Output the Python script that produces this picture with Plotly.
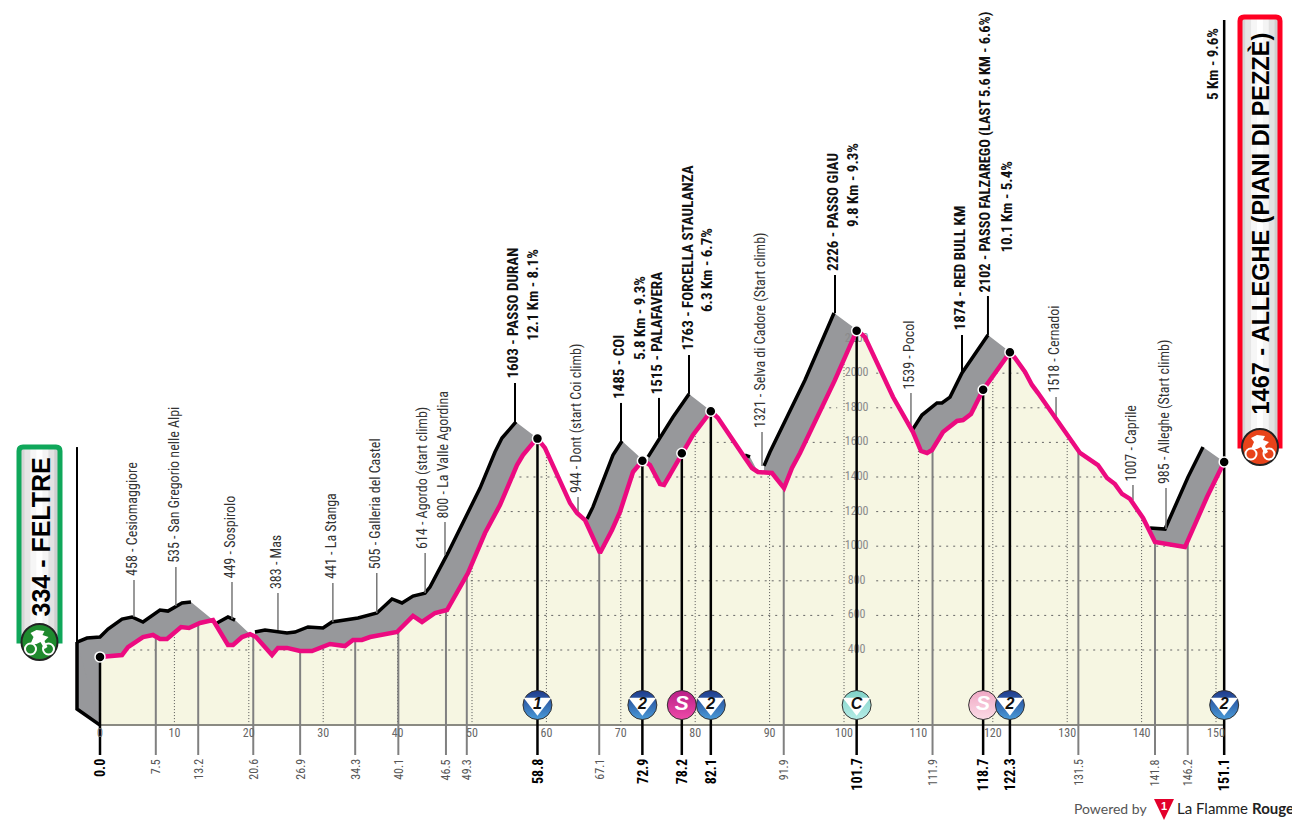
import numpy as np
import plotly.graph_objects as go

# stage profile, front edge (km, metres)
profile_km = [0, 2.96, 3.76, 5.78, 7.12, 8.06, 9.0, 10.89, 11.96, 13.44, 15.19, 17.2, 17.88, 19.09, 20.16, 20.97,
              23.12, 23.92, 25.13, 26.88, 28.49, 30.91, 32.93, 34.0, 35.2, 36.29, 39.92, 42.07, 43.28, 45.03, 46.64,
              49.46, 51.75, 53.76, 56.05, 56.85, 58.74, 59.8, 63.17, 64.11, 65.19, 67.2, 68.82, 69.89, 71.64, 72.98,
              73.92, 75.27, 75.81, 78.23, 79.7, 82.12, 83.06, 86.69, 87.63, 88.44, 90.32, 91.94, 93.01, 94.09, 98.79,
              101.75, 102.82, 106.59, 109.27, 110.35, 111.16, 111.83, 113.31, 115.19, 116.0, 117.07, 118.68, 122.31,
              122.98, 124.33, 125.27, 126.08, 131.72, 134.14, 135.35, 136.42, 137.37, 138.44, 140.19, 141.8, 145.83,
              148.79, 151.1]
profile_alt = [360, 371, 417, 475, 487, 464, 464, 533, 527, 556, 573, 429, 429, 475, 492, 475,
               371, 412, 412, 394, 394, 435, 423, 458, 458, 475, 504, 597, 562, 614, 631,
               845, 1076, 1238, 1469, 1527, 1625, 1568, 1250, 1192, 1151, 961, 1094, 1198, 1429, 1498,
               1469, 1359, 1354, 1539, 1643, 1781, 1741, 1510, 1452, 1429, 1423, 1336, 1452, 1539, 1961,
               2250, 2209, 1862, 1660, 1550, 1539, 1556, 1660, 1724, 1729, 1764, 1903, 2122,
               2088, 2007, 1932, 1885, 1539, 1469, 1394, 1359, 1302, 1273, 1163, 1024, 995,
               1284, 1487]

# back edge of the ribbon, only the stretches that can be seen
back_km = [[-3.09, -1.75, 0, 1.08, 2.96, 4.3, 5.78, 8.06, 9.14, 11.02, 12.23],
           [15.73, 17.2, 18.15],
           [20.83, 22.18, 25.13, 26.21, 27.96, 29.97, 31.18, 33.2, 34.68, 37.23, 39.25, 40.59, 42.07, 43.68, 44.35,
            46.77, 49.33, 51.08, 53.09, 54.03, 55.91],
           [65.46, 66.26, 68.95, 70.16],
           [73.66, 75.27, 77.02, 79.17],
           [86.69, 87.37],
           [89.25, 90.05, 94.76, 98.66],
           [109.27, 110.48, 112.5, 113.17, 114.25, 115.86, 119.35],
           [141.13, 143.15, 146.24, 148.25]]
back_alt = [[446, 469, 475, 521, 579, 591, 562, 631, 625, 672, 677],
            [556, 591, 573],
            [504, 516, 498, 504, 533, 527, 562, 573, 585, 614, 695, 672, 712, 729, 764,
             961, 1180, 1336, 1544, 1625, 1718],
            [1157, 1227, 1527, 1608],
            [1516, 1631, 1747, 1880],
            [1527, 1516],
            [1464, 1544, 1961, 2348],
            [1677, 1758, 1828, 1828, 1862, 2001, 2221],
            [1105, 1099, 1400, 1573]]
# where each stretch comes back down to the front edge
link_km = [15.19, 20.16, 58.74, 72.98, 82.12, 88.44, 101.75, 122.31, 151.1]
link_alt = [573, 492, 1625, 1498, 1781, 1429, 2250, 2122, 1487]
side_km = [-3.09, -3.09, 0, 0]
side_alt = [446, 59, -34, 475]

# waypoints
minor_text = ["458 - Cesiomaggiore", "535 - San Gregorio nelle Alpi", "449 - Sospirolo", "383 - Mas", "441 - La Stanga",
              "505 - Galleria del Castel", "614 - Agordo (start climb)", "800 - La Valle Agordina",
              "944 - Dont (start Coi climb)", "1321 - Selva di Cadore (Start climb)", "1539 - Pocol", "1518 - Cernadoi",
              "1007 - Caprile", "985 - Alleghe (Start climb)"]
minor_km = [4.57, 10.2, 17.74, 23.92, 31.3, 37.2, 43.7, 46.37, 64.25, 88.98, 109.0, 128.5, 138.84, 143.28]
minor_low = [591, 654, 579, 516, 562, 614, 729, 949, 1180, 1464, 1677, 1585, 1267, 1099]
minor_high = [805, 880, 793, 729, 787, 845, 961, 1140, 1284, 1660, 1885, 1862, 1354, 1336]

major_text = ["1603 - PASSO DURAN", "1485 - COI", "1515 - PALAFAVERA", "1763 - FORCELLA STAULANZA", "2226 - PASSO GIAU",
              "1874 - RED BULL KM", "2102 - PASSO FALZAREGO (LAST 5.6 KM - 6.6%)"]
major_km = [55.78, 70.03, 75.13, 79.17, 98.79, 115.86, 119.35]
major_low = [1718, 1608, 1631, 1880, 2348, 2001, 2221]
major_high = [1943, 1828, 1857, 2105, 2568, 2221, 2446]

climb_text = ["12.1 Km - 8.1%", "5.8 Km - 9.3%", "6.3 Km - 6.7%", "9.8 Km - 9.3%", "10.1 Km - 5.4%", "5 Km - 9.6%"]
climb_km = [58.2, 72.58, 81.59, 101.2, 121.9, 149.6]
climb_alt = [2185, 2076, 2354, 2845, 2700, 3579]

# distance ticks under the profile
bold_km = [0.0, 58.8, 72.9, 78.2, 82.1, 101.7, 118.7, 122.3, 151.1]
thin_km = [7.5, 13.2, 20.6, 26.9, 34.3, 40.1, 46.5, 49.3, 67.1, 91.9, 111.9, 131.5, 141.8, 146.2]
axis_km = list(range(0, 151, 10))
alt_ticks = [400, 600, 800, 1000, 1200, 1400, 1600, 1800, 2000, 2200]
ALT_LABEL_KM = 101.7
badge_km = [58.8, 72.9, 78.2, 82.1, 101.7, 118.7, 122.3, 151.1]
badge_text = ["1", "2", "S", "2", "C", "S", "2", "2"]

start_text = "334 - FELTRE"
finish_text = "1467 - ALLEGHE (PIANI DI PEZZÈ)"

NARROW = "Roboto Condensed, Roboto, sans-serif"
PINK = "#ec0a80"
GREY = "#97989b"
CREAM = "#f6f6e2"
BASE = -34
TICK_END = -207
# the page body keeps its 8px margin, so the figure starts at 8,8
W, H, PAGE = 1292, 817, 8


def alt_at(km):
    return np.interp(km, profile_km, profile_alt)


def segs(xs, lows, highs):
    x, y = [], []
    for a, lo, hi in zip(xs, lows, highs):
        x += [a, a, None]
        y += [lo, hi, None]
    return x, y


def line(x, y, color, width, dash="solid"):
    return go.Scatter(x=x, y=y, mode="lines", hoverinfo="skip", line=dict(color=color, width=width, dash=dash))


fig = go.Figure()

# grey ribbon, the start wall is its own trace so the fills don't cancel
fig.add_trace(go.Scatter(x=side_km, y=side_alt, mode="lines", fill="toself", fillcolor=GREY, line=dict(width=0), hoverinfo="skip"))
gx, gy = [], []
for kms, alts, lk, la in zip(back_km, back_alt, link_km, link_alt):
    left = max(kms[0], 0)
    gx += kms + [lk, lk, left, None]
    gy += alts + [la, BASE, BASE, None]
fig.add_trace(go.Scatter(x=gx, y=gy, mode="lines", fill="toself", fillcolor=GREY, line=dict(width=0), hoverinfo="skip"))

bx, by = [], []
for kms, alts in zip(back_km, back_alt):
    bx += kms + [None]
    by += alts + [None]
fig.add_trace(line(bx, by, "#000000", 3.5))
fig.add_trace(line([-3.09, -3.09], [446, 1573], "#000000", 2))
fig.add_trace(line(side_km[:3], side_alt[:3], "#000000", 3.5))

# leader lines up from the ribbon
x, y = segs(minor_km, minor_low, minor_high)
fig.add_trace(line(x, y, "#777777", 1.5))
x, y = segs(major_km, major_low, major_high)
fig.add_trace(line(x, y, "#000000", 2))

# front face
fig.add_trace(go.Scatter(x=[0] + profile_km + [151.1], y=[BASE] + profile_alt + [BASE], mode="lines", fill="toself",
                         fillcolor=CREAM, line=dict(width=0), hoverinfo="skip"))

# dotted grid, kept inside the front face
dense = np.linspace(0, 151.1, 1500)
for lev in alt_ticks:
    yy = np.where((alt_at(dense) > lev) & (np.abs(dense - ALT_LABEL_KM) > 2.6), float(lev), np.nan)
    fig.add_trace(line(dense, yy, "#666666", 1, "2px,5px"))
x, y = segs(axis_km[1:], [BASE] * 15, [alt_at(k) for k in axis_km[1:]])
fig.add_trace(line(x, y, "#555555", 1, "1px,2px"))

fig.add_trace(go.Scatter(x=[ALT_LABEL_KM] * len(alt_ticks), y=alt_ticks, mode="text", text=[str(a) for a in alt_ticks],
                         textfont=dict(family=NARROW, size=12, color="#8a8a8a"), hoverinfo="skip"))

# axis line and distance ticks
fig.add_trace(line([0, 151.1], [BASE, BASE], "#8a8a82", 2))
x, y = segs(thin_km, [TICK_END] * len(thin_km), [alt_at(k) for k in thin_km])
fig.add_trace(line(x, y, "#808080", 2))
x, y = segs(bold_km, [TICK_END] * len(bold_km), [alt_at(k) for k in bold_km])
fig.add_trace(line(x, y, "#000000", 2.5))
fig.add_trace(line([151.1, 151.1], [1487, 4041], "#000000", 2.5))

fig.add_trace(line(profile_km, profile_alt, PINK, 4.5))

fig.add_trace(go.Scatter(x=bold_km, y=[alt_at(k) for k in bold_km], mode="markers", hoverinfo="skip",
                         marker=dict(size=10, color="#000000", line=dict(color="#ffffff", width=1.5))))

# km numbers
fig.add_trace(go.Scatter(x=axis_km, y=[-86] * len(axis_km), mode="text", text=[str(k) for k in axis_km],
                         textfont=dict(family=NARROW, size=12, color="#666666"), hoverinfo="skip"))

# climb / sprint badges
BADGE_ALT = 82
badge_style = {"1": ("#1e3a8c", "#4a9bd8"), "2": ("#1e3a8c", "#4a9bd8"), "C": ("#7fd2c8", "#b5ece6")}
for km, t in zip(badge_km, badge_text):
    if t == "S":
        low, high = ("#b81f86", "#ee4aa8") if km < 100 else ("#f0a8c4", "#fbdbe6")
    else:
        low, high = badge_style[t]
    fig.add_trace(go.Scatter(x=[km], y=[BADGE_ALT], mode="markers", hoverinfo="skip",
                             marker=dict(size=29, color=low, gradient=dict(type="vertical", color=high),
                                         line=dict(color="#333333", width=1))))
    if t != "S":
        fig.add_trace(go.Scatter(x=[km], y=[BADGE_ALT + 8], mode="markers", hoverinfo="skip",
                                 marker=dict(size=24, symbol="triangle-down", color="#ffffff")))
    fig.add_trace(go.Scatter(x=[km], y=[BADGE_ALT], mode="text", text=[f"<b><i>{t}</i></b>"],
                             textfont=dict(family="Liberation Sans", size=16 if t != "S" else 21,
                                           color="#111111" if t != "S" else "#ffffff"), hoverinfo="skip"))

annos = []


def vtext(text, x, y, size, color, xshift=0, yshift=0, anchor="bottom", bold=False):
    annos.append(dict(x=x, y=y, text=f"<b>{text}</b>" if bold else text, textangle=-90, showarrow=False,
                      xanchor="center", yanchor=anchor, xshift=xshift, yshift=yshift, borderpad=0, borderwidth=0,
                      font=dict(family=NARROW, size=size, color=color)))


for t, k, h in zip(minor_text, minor_km, minor_high):
    vtext(t, k, h, 14, "#333333", xshift=-2, yshift=4)
for t, k, h in zip(major_text, major_km, major_high):
    # the longest label has to fit under the top of the page
    vtext(t, k, h, 14.4 if len(t) > 30 else 15, "#111111", xshift=-2, yshift=4, bold=True)
for t, k, a in zip(climb_text, climb_km, climb_alt):
    vtext(t, k, a, 15, "#111111", bold=True)
for k in thin_km:
    vtext(f"{k:.1f}", k, -230, 12, "#555555", anchor="top")
for k in bold_km:
    vtext(f"{k:.1f}", k, -230, 14, "#000000", anchor="top", bold=True)


# page furniture in pixels of the 1300x825 picture
def px(v):
    return (v - PAGE) / W


def py(v):
    return 1 - (v - PAGE) / H


def pill_path(x0, x1, top, cy, r_top=4):
    r = (x1 - x0) / 2
    return (f"M {px(x0)} {py(cy)} L {px(x0)} {py(top + r_top)} Q {px(x0)} {py(top)} {px(x0 + r_top)} {py(top)} "
            f"L {px(x1 - r_top)} {py(top)} Q {px(x1)} {py(top)} {px(x1)} {py(top + r_top)} L {px(x1)} {py(cy)} "
            f"A {r} {r} 0 0 1 {px(x0)} {py(cy)} Z")


def box(x0, y0, x1, y1, color):
    return dict(type="rect", xref="paper", yref="paper", x0=px(x0), x1=px(x1), y0=py(y1), y1=py(y0),
                fillcolor=color, line=dict(width=0), layer="above")


def disc(cx, cy, r, fill, edge=None, w=0):
    return dict(type="circle", xref="paper", yref="paper", x0=px(cx - r), x1=px(cx + r), y0=py(cy + r), y1=py(cy - r),
                fillcolor=fill, line=dict(color=edge or fill, width=w), layer="above")


def rider(cx, cy, fill):
    body = [(-9, 2), (-6, -5), (-9, -9), (-3, -12), (5, -11), (3, -7), (9, -5), (5, -1), (8, 5), (5, 7), (1, 0), (-3, 2)]
    d = "M " + " L ".join(f"{px(cx + a)} {py(cy + b)}" for a, b in body) + " Z"
    return [disc(cx - 9, cy + 7, 5.5, fill, "#ffffff", 2), disc(cx + 9, cy + 7, 5.5, fill, "#ffffff", 2),
            dict(type="path", xref="paper", yref="paper", path=d, fillcolor="#ffffff", line=dict(width=0), layer="above")]


shapes = []
strip_cols = ["#d6d6d6", "#e6e6e6", "#f6f6f6", "#ffffff", "#f4f4f4", "#e2e2e2", "#cfcfcf"]
for left, right, top, cy, col, icon in [(19, 60, 447, 641, "#0fa75a", "#1f8a2e"), (1240, 1280, 17, 446, "#ff0022", "#e8431a")]:
    shapes.append(dict(type="path", xref="paper", yref="paper", path=pill_path(left, right, top, cy),
                       fillcolor="#ffffff", line=dict(width=0), layer="above"))
    w = (right - left) / len(strip_cols)
    for i, c in enumerate(strip_cols):
        shapes.append(box(left + i * w, top, left + (i + 1) * w, cy, c))
    shapes.append(dict(type="path", xref="paper", yref="paper", path=pill_path(left, right, top, cy),
                       fillcolor="rgba(0,0,0,0)", line=dict(color=col, width=5), layer="above"))
    mid = (left + right) / 2
    shapes.append(disc(mid, cy + 1, 18, icon, "#222222", 2))
    shapes += rider(mid, cy + 1, icon)

# powered-by triangle
tri = [(1154, 799), (1174, 799), (1164, 820)]
shapes.append(dict(type="path", xref="paper", yref="paper", fillcolor="#e3002b", line=dict(width=0), layer="above",
                   path="M " + " L ".join(f"{px(a)} {py(b)}" for a, b in tri) + " Z"))
fig.update_layout(shapes=shapes)


def page_text(text, x, y, family, size, color, angle=0, xanchor="center"):
    annos.append(dict(xref="paper", yref="paper", x=px(x), y=py(y), text=text, textangle=angle, showarrow=False,
                      xanchor=xanchor, yanchor="middle", font=dict(family=family, size=size, color=color)))


page_text(f"<b>{start_text}</b>", 40, 537.5, "Liberation Sans", 25, "#000000", -90)
page_text(f"<b>{finish_text}</b>", 1260, 223.5, "Liberation Sans", 23.5, "#000000", -90)
page_text("Powered by", 1072, 808, "Lato", 14, "#555555", xanchor="left")
page_text("<b>1</b>", 1164, 806, "Liberation Sans", 11, "#ffffff")
page_text("La Flamme", 1175, 808, "Lato", 15, "#222222", xanchor="left")
page_text("<b>Rouge</b>", 1296, 808, "Lato", 15, "#222222", xanchor="right")

fig.update_layout(
    width=W, height=H, margin=dict(l=0, r=0, t=0, b=0), showlegend=False,
    paper_bgcolor="#ffffff", plot_bgcolor="#ffffff", annotations=annos,
    xaxis=dict(visible=False, range=[(PAGE - 100) / 7.44, 1200 / 7.44], fixedrange=True),
    yaxis=dict(visible=False, range=[400 + (650 - 825) * 5.78, 400 + (650 - PAGE) * 5.78], fixedrange=True),
)

fig.write_html("out.html")
